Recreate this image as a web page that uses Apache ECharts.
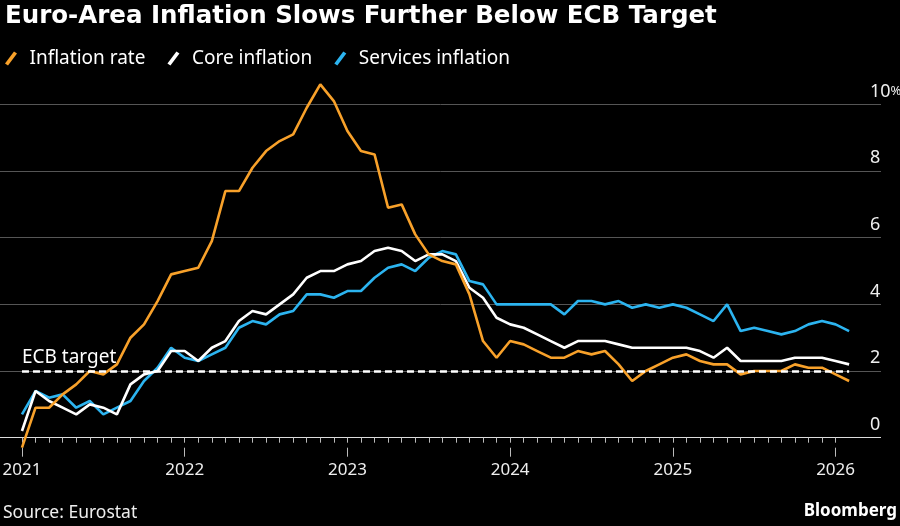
<!DOCTYPE html>
<html>
<head>
<meta charset="utf-8">
<script src="https://cdn.jsdelivr.net/npm/echarts@6/dist/echarts.min.js"></script>
<style>
html,body{margin:0;padding:0;background:#000;}
#c{width:900px;height:526px;}
</style>
</head>
<body>
<div id="c"></div>
<script>
// Monthly observations, Dec 2020 .. Jan 2026
const monthNames = ['Jan','Feb','Mar','Apr','May','Jun','Jul','Aug','Sep','Oct','Nov','Dec'];
const months = ['Dec 2020'];
for (let y = 2021; y <= 2025; y++) for (let m = 0; m < 12; m++) months.push(monthNames[m] + ' ' + y);
months.push('Jan 2026');

const inflationRate = [-0.3,
  0.9, 0.9, 1.3, 1.6, 2.0, 1.9, 2.2, 3.0, 3.4, 4.1, 4.9, 5.0,
  5.1, 5.9, 7.4, 7.4, 8.1, 8.6, 8.9, 9.1, 9.9, 10.6, 10.1, 9.2,
  8.6, 8.5, 6.9, 7.0, 6.1, 5.5, 5.3, 5.2, 4.3, 2.9, 2.4, 2.9,
  2.8, 2.6, 2.4, 2.4, 2.6, 2.5, 2.6, 2.2, 1.7, 2.0, 2.2, 2.4,
  2.5, 2.3, 2.2, 2.2, 1.9, 2.0, 2.0, 2.0, 2.2, 2.1, 2.1, 1.9,
  1.7];
const coreInflation = [0.2,
  1.4, 1.1, 0.9, 0.7, 1.0, 0.9, 0.7, 1.6, 1.9, 2.0, 2.6, 2.6,
  2.3, 2.7, 2.9, 3.5, 3.8, 3.7, 4.0, 4.3, 4.8, 5.0, 5.0, 5.2,
  5.3, 5.6, 5.7, 5.6, 5.3, 5.5, 5.5, 5.3, 4.5, 4.2, 3.6, 3.4,
  3.3, 3.1, 2.9, 2.7, 2.9, 2.9, 2.9, 2.8, 2.7, 2.7, 2.7, 2.7,
  2.7, 2.6, 2.4, 2.7, 2.3, 2.3, 2.3, 2.3, 2.4, 2.4, 2.4, 2.3,
  2.2];
const servicesInflation = [0.7,
  1.4, 1.2, 1.3, 0.9, 1.1, 0.7, 0.9, 1.1, 1.7, 2.1, 2.7, 2.4,
  2.3, 2.5, 2.7, 3.3, 3.5, 3.4, 3.7, 3.8, 4.3, 4.3, 4.2, 4.4,
  4.4, 4.8, 5.1, 5.2, 5.0, 5.4, 5.6, 5.5, 4.7, 4.6, 4.0, 4.0,
  4.0, 4.0, 4.0, 3.7, 4.1, 4.1, 4.0, 4.1, 3.9, 4.0, 3.9, 4.0,
  3.9, 3.7, 3.5, 4.0, 3.2, 3.3, 3.2, 3.1, 3.2, 3.4, 3.5, 3.4,
  3.2];
const ecbTarget = 2;

const yearTickIndex = [0, 12, 24, 36, 48, 60];
const yearLabels = ['2021', '2022', '2023', '2024', '2025', '2026'];
const monthTickIndex = months.map((m, i) => i).filter(i => i <= 60);

const ORANGE = '#F8A12A';
const WHITE = '#FFFFFF';
const BLUE = '#2CB4F0';
const FONT = 'Noto Sans';

const xMin = -1.62, xMax = 63.35;

const toPairs = arr => arr.map((v, i) => [i, v]);

const chart = echarts.init(document.getElementById('c'));
chart.setOption({
  backgroundColor: '#000',
  animation: false,
  title: {
    text: 'Euro-Area Inflation Slows Further Below ECB Target',
    left: 0, top: -1,
    textStyle: { color: '#fff', fontFamily: 'DejaVu Sans', fontWeight: 'bold', fontSize: 24.5 }
  },
  legend: {
    left: 0, top: 44,
    itemWidth: 13, itemHeight: 14, itemGap: 22,
    icon: 'path://M0,12 L9,0 L12,2 L3,14 Z',
    textStyle: { color: '#fff', fontFamily: FONT, fontSize: 19, padding: [0, 0, 0, 7] },
    data: ['Inflation rate', 'Core inflation', 'Services inflation']
  },
  grid: { left: 0, right: 19, top: 104.4, bottom: 88.3, containLabel: false, outerBoundsMode: 'none' },
  xAxis: [
    {
      type: 'value', min: xMin, max: xMax, position: 'bottom', offset: 10,
      axisLine: { show: false }, splitLine: { show: false },
      axisTick: { show: true, length: 5, customValues: monthTickIndex, lineStyle: { color: '#bbb' } },
      axisLabel: { show: false }
    },
    {
      type: 'value', min: xMin, max: xMax, position: 'bottom', offset: 10,
      axisLine: { show: false }, splitLine: { show: false },
      axisTick: { show: true, length: 9, customValues: yearTickIndex, lineStyle: { color: '#bbb' } },
      axisLabel: {
        customValues: yearTickIndex,
        formatter: v => yearLabels[yearTickIndex.indexOf(v)],
        color: '#eee', fontSize: 17, fontFamily: FONT, margin: 14
      }
    }
  ],
  yAxis: {
    type: 'value', position: 'right', min: 0, max: 10, interval: 2,
    axisLine: { show: false }, axisTick: { show: false },
    splitLine: { lineStyle: { color: ['#dddddd', '#555', '#555', '#555', '#555', '#555'], width: 1 } },
    axisLabel: {
      margin: -11, align: 'left', verticalAlign: 'bottom', padding: [0, 0, 4, 0],
      formatter: v => (v === 10 ? '10{p|%}' : String(v)),
      rich: { p: { fontSize: 13, color: '#eee', fontFamily: FONT } },
      color: '#eee', fontSize: 18, fontFamily: FONT
    }
  },
  series: [
    {
      name: 'Services inflation', type: 'line', data: toPairs(servicesInflation),
      showSymbol: false, clip: false, z: 2,
      lineStyle: { color: BLUE, width: 2.6 }, itemStyle: { color: BLUE }
    },
    {
      name: 'Core inflation', type: 'line', data: toPairs(coreInflation),
      showSymbol: false, clip: false, z: 3,
      lineStyle: { color: WHITE, width: 2.6 }, itemStyle: { color: WHITE }
    },
    {
      name: 'Inflation rate', type: 'line', data: toPairs(inflationRate),
      showSymbol: false, clip: false, z: 4,
      lineStyle: { color: ORANGE, width: 2.6 }, itemStyle: { color: ORANGE }
    },
    {
      name: 'ECB target', type: 'line', data: [], z: 6,
      markLine: {
        symbol: 'none', silent: true, animation: false,
        lineStyle: { color: '#fff', type: [7, 4], width: 2.5 },
        label: {
          show: true, formatter: 'ECB target', position: 'insideStartTop',
          color: '#fff', fontSize: 19, fontFamily: FONT, distance: [0, 4]
        },
        data: [[{ coord: [0, ecbTarget] }, { coord: [months.length - 1, ecbTarget] }]]
      }
    }
  ],
  graphic: [
    { type: 'text', left: 3, top: 504, style: { text: 'Source: Eurostat', fill: '#eee', font: '17.5px "Noto Sans"' } },
    { type: 'text', right: 3, top: 503, style: { text: 'Bloomberg', fill: '#fff', font: 'bold 17px "Noto Sans"' } }
  ]
});
</script>
</body>
</html>
